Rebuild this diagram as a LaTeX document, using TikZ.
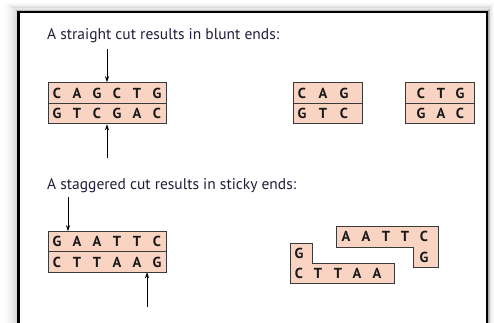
\documentclass[tikz,border=0pt]{standalone}
\usepackage{fontspec}
\setmainfont{PT Sans}
\usetikzlibrary{arrows.meta}
\definecolor{peach}{HTML}{F9D4C2}
\definecolor{edgec}{HTML}{3A3A3A}
\definecolor{ink}{HTML}{1E1E3A}
\tikzset{
  rowbox/.style={draw=edgec, fill=peach, line width=1pt, inner sep=0pt, minimum height=20.5pt},
  base/.style={inner sep=0pt, font=\fontsize{14.5}{14.5}\selectfont\bfseries, text=black!90},
  title/.style={inner sep=0pt, anchor=base west, font=\fontsize{15.5}{15.5}\selectfont, text=ink},
  cutarrow/.style={line width=0.9pt, -{Stealth[length=6pt,width=4pt]}},
  piece/.style={draw=edgec, fill=peach, line width=1pt}
}
\begin{document}
\begin{tikzpicture}[x=1pt,y=-1pt]
\useasboundingbox (0,0) rectangle (494,323);
% shadow
\foreach \i/\o in {1/0.16,2/0.12,3/0.09,4/0.06,5/0.04,6/0.025,7/0.015}
  \draw[black, opacity=\o, line width=2pt] (18.5-\i*2,12-\i*1.2) rectangle (487+\i*0.8,340);
% frame
\draw[black, line width=2.6pt] (18.5,12) rectangle (487,340);

% titles
\node[title] (t1) at (47,40) {A straight cut results in blunt ends:};
\node[title] (t2) at (47,189) {A staggered cut results in sticky ends:};

% blunt: whole molecule
\node[rowbox, minimum width=118pt] (b1t) at (107,93) {};
\node[rowbox, minimum width=118pt] (b1b) at (107,113.5) {};
\foreach \l [count=\i] in {C,A,G,C,T,G}
  \node[base] (b1t\i) at (37+20*\i,93) {\l};
\foreach \l [count=\i] in {G,T,C,G,A,C}
  \node[base] (b1b\i) at (37+20*\i,113.5) {\l};
\coordinate (a1s) at (107,49);
\coordinate (a2s) at (107,158);
\draw[cutarrow] (a1s) -- (b1t.north);
\draw[cutarrow] (a2s) -- (b1b.south);

% blunt fragments
\node[rowbox, minimum width=69pt] (f1t) at (327.5,93) {};
\node[rowbox, minimum width=69pt] (f1b) at (327.5,113.5) {};
\foreach \l/\x [count=\i] in {C/302,A/323,G/344}
  \node[base] (f1t\i) at (\x,93) {\l};
\foreach \l/\x [count=\i] in {G/302,T/323,C/344}
  \node[base] (f1b\i) at (\x,113.5) {\l};
\node[rowbox, minimum width=69pt] (f2t) at (439.5,93) {};
\node[rowbox, minimum width=69pt] (f2b) at (439.5,113.5) {};
\foreach \l/\x [count=\i] in {C/421,T/441,G/460}
  \node[base] (f2t\i) at (\x,93) {\l};
\foreach \l/\x [count=\i] in {G/421,A/441,C/460}
  \node[base] (f2b\i) at (\x,113.5) {\l};

% sticky: whole molecule
\node[rowbox, minimum width=118pt] (b2t) at (107,241.5) {};
\node[rowbox, minimum width=118pt] (b2b) at (107,262) {};
\foreach \l [count=\i] in {G,A,A,T,T,C}
  \node[base] (b2t\i) at (37+20*\i,241.5) {\l};
\foreach \l [count=\i] in {C,T,T,A,A,G}
  \node[base] (b2b\i) at (37+20*\i,262) {\l};
\coordinate (a3s) at (68,197);
\coordinate (a4s) at (147,307);
\coordinate (a3e) at (68,231.25);
\coordinate (a4e) at (147,272.25);
\draw[cutarrow] (a3s) -- (a3e);
\draw[cutarrow] (a4s) -- (a4e);

% sticky fragments
\draw[piece] (336,226) -- (438,226) -- (438,267) -- (413,267) -- (413,247) -- (336,247) -- cycle;
\draw[piece] (290,243) -- (312,243) -- (312,263) -- (394,263) -- (394,283) -- (290,283) -- cycle;
\foreach \l/\x [count=\i] in {A/346,A/366,T/386,T/405,C/424}
  \node[base] (s1\i) at (\x,236.5) {\l};
\node[base] (s16) at (424,257) {G};
\node[base] (s2g) at (299,253) {G};
\foreach \l/\x [count=\i] in {C/299,T/318,T/338,A/357,A/377}
  \node[base] (s2\i) at (\x,273) {\l};
\end{tikzpicture}
\end{document}
